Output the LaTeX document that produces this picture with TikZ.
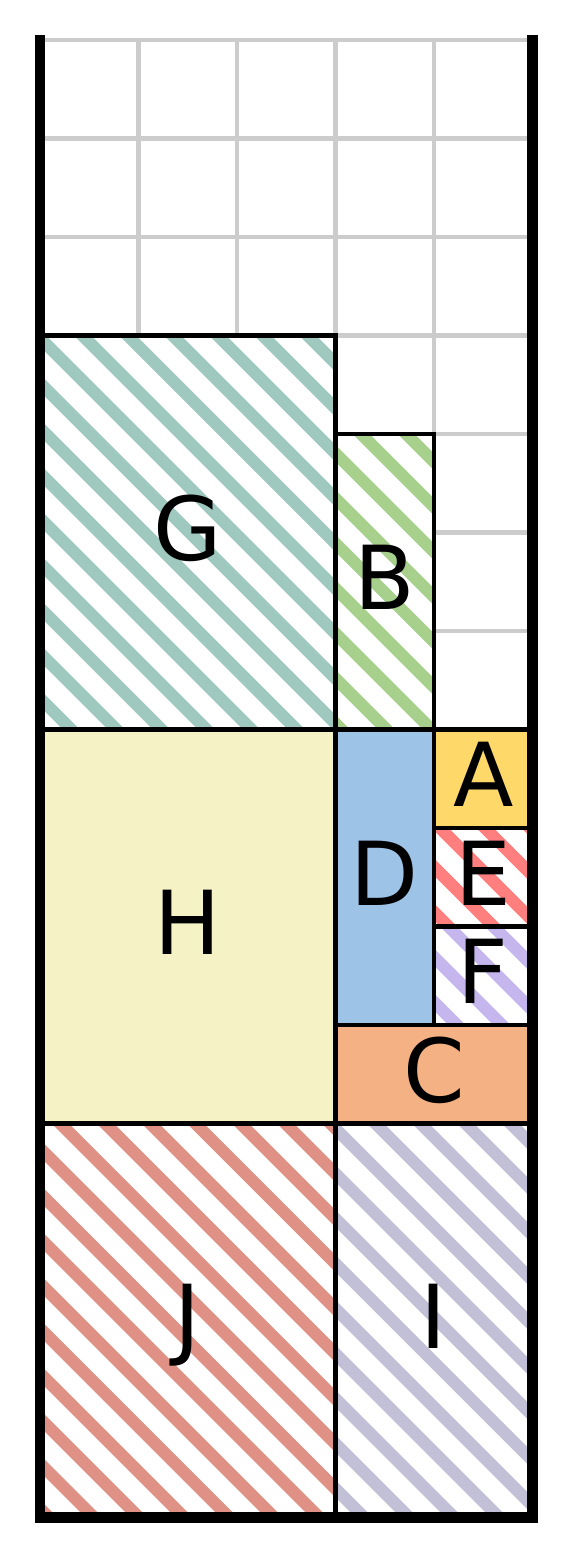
\documentclass[tikz,border=0pt]{standalone}
\usepackage{fontspec}
\setmainfont{DejaVu Sans}
\definecolor{hatchG}{HTML}{9FC8BF}
\definecolor{hatchB}{HTML}{A8D08D}
\definecolor{hatchE}{HTML}{FF7F7F}
\definecolor{hatchF}{HTML}{C6B6EE}
\definecolor{hatchJ}{HTML}{DE9184}
\definecolor{hatchI}{HTML}{C1C0D6}
\definecolor{fillA}{HTML}{FED96A}
\definecolor{fillH}{HTML}{F5F3C6}
\definecolor{fillD}{HTML}{9DC3E6}
\definecolor{fillC}{HTML}{F4B183}
\tikzset{
  box/.style={draw=black,line width=1.4pt},
  lbl/.style={anchor=base,font=\fontsize{25.5}{30}\selectfont},
  gridline/.style={gray!40,line width=1.3pt},
  wall/.style={line width=2.9pt,line cap=rect,line join=miter}
}
% hatched item: colour, lower left, upper right
\newcommand{\hatchrect}[3]{%
  \fill[white] #2 rectangle #3;
  \begin{scope}
    \clip #2 rectangle #3;
    \foreach \k in {0,...,38} \draw[#1,line width=3.5pt] ({0.093+\k*0.457},0) -- ++(-16,16);
  \end{scope}
  \draw[box] #2 rectangle #3;
}

\begin{document}
\begin{tikzpicture}[scale=1]
\useasboundingbox (-0.406,-0.411) rectangle (5.403,15.406);
\draw[gridline] (0,0) grid (5,15);
\hatchrect{hatchJ}{(0,0)}{(3,4)}
\hatchrect{hatchI}{(3,0)}{(5,4)}
\hatchrect{hatchF}{(4,5)}{(5,6)}
\hatchrect{hatchE}{(4,6)}{(5,7)}
\hatchrect{hatchG}{(0,8)}{(3,12)}
\hatchrect{hatchB}{(3,8)}{(4,11)}
\draw[box,fill=fillH] (0,4) rectangle (3,8);
\draw[box,fill=fillC] (3,4) rectangle (5,5);
\draw[box,fill=fillD] (3,5) rectangle (4,8);
\draw[box,fill=fillA] (4,7) rectangle (5,8);
\draw[wall] (0,15) -- (0,0) -- (5,0) -- (5,15);
\node[lbl] (labA) at (4.5,7.215) {A};
\node[lbl] (labB) at (3.5,9.215) {B};
\node[lbl] (labC) at (4,4.215) {C};
\node[lbl] (labD) at (3.5,6.215) {D};
\node[lbl] (labE) at (4.5,6.215) {E};
\node[lbl] (labF) at (4.5,5.215) {F};
\node[lbl] (labG) at (1.5,9.715) {G};
\node[lbl] (labH) at (1.5,5.715) {H};
\node[lbl] (labI) at (4,1.715) {I};
\node[lbl] (labJ) at (1.5,1.715) {J};
\end{tikzpicture}
\end{document}
